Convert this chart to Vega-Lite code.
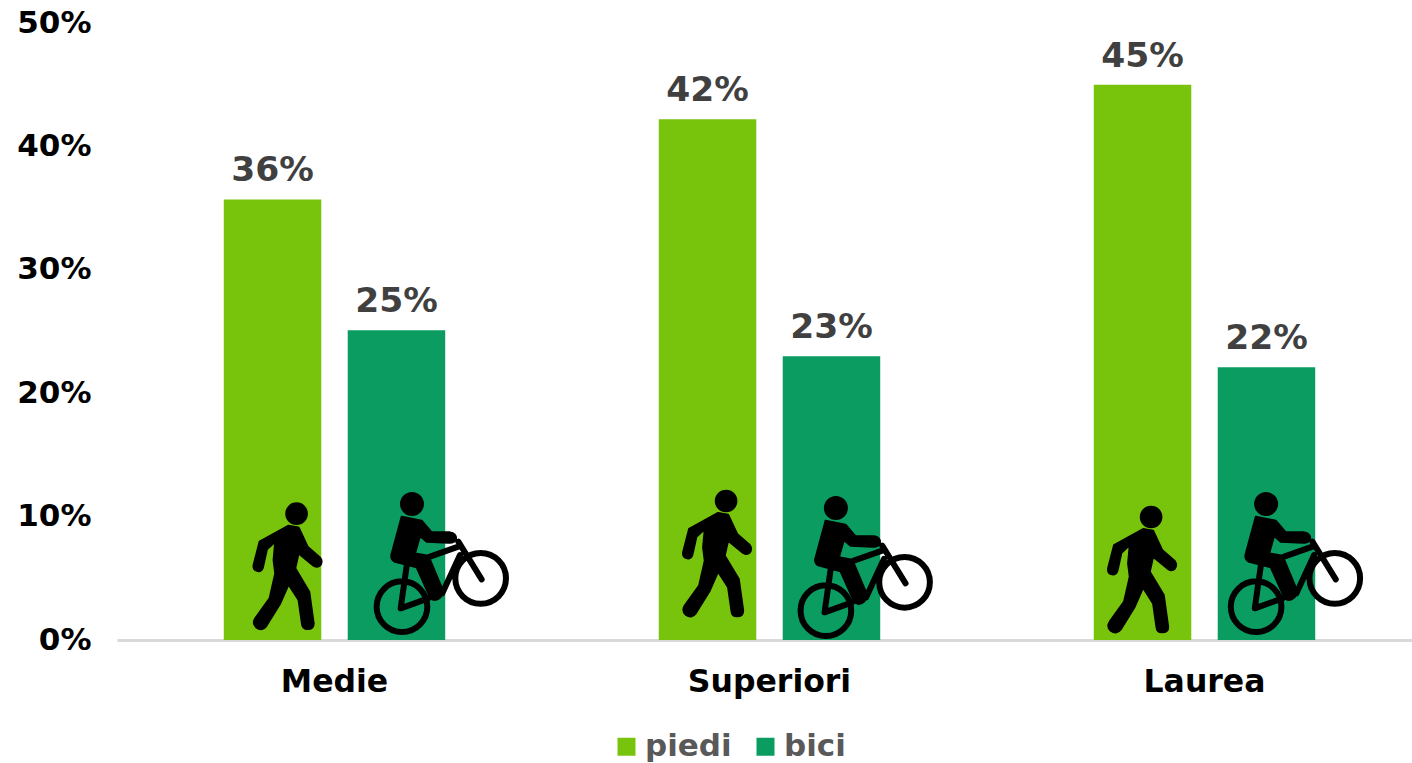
{"$schema":"https://vega.github.io/schema/vega-lite/v6.json","width":1295,"height":617,"autosize":{"type":"none"},"padding":{"left":117,"top":23,"right":0,"bottom":123},"background":"white","config":{"view":{"stroke":null},"font":"DejaVu Sans"},"datasets":{"barre":[{"grado":"Medie","mezzo":"piedi","valore":0.357},{"grado":"Medie","mezzo":"bici","valore":0.251},{"grado":"Superiori","mezzo":"piedi","valore":0.422},{"grado":"Superiori","mezzo":"bici","valore":0.23},{"grado":"Laurea","mezzo":"piedi","valore":0.45},{"grado":"Laurea","mezzo":"bici","valore":0.221}],"pedoni":[{"pos":0.3906,"quota":0.0567},{"pos":1.378,"quota":0.067},{"pos":2.355,"quota":0.054}],"ciclisti":[{"pos":0.7195,"quota":0.0567},{"pos":1.694,"quota":0.0535},{"pos":2.683,"quota":0.0567}]},"resolve":{"scale":{"x":"independent"}},"layer":[{"data":{"name":"barre"},"layer":[{"mark":{"type":"bar","size":97.5},"encoding":{"x":{"field":"grado","type":"nominal","sort":["Medie","Superiori","Laurea"],"scale":{"range":[0,1305],"paddingInner":0.49,"paddingOuter":0.245},"axis":{"title":null,"labelAngle":0,"ticks":false,"labelFontSize":31.5,"labelFontWeight":"bold","labelColor":"#000000","labelPadding":26,"domainColor":"#D9D9D9","domainWidth":3}},"xOffset":{"field":"mezzo","type":"nominal","sort":["piedi","bici"],"scale":{"paddingInner":0.21}},"y":{"field":"valore","type":"quantitative","scale":{"domain":[0,0.5],"nice":false},"axis":{"title":null,"format":".0%","values":[0,0.1,0.2,0.3,0.4,0.5],"grid":false,"domain":false,"ticks":false,"labelFontSize":31,"labelFontWeight":"bold","labelColor":"#000000","labelPadding":26}},"color":{"field":"mezzo","type":"nominal","scale":{"domain":["piedi","bici"],"range":["#78C40C","#0B9C62"]},"legend":{"title":null,"orient":"none","legendX":494,"legendY":708,"direction":"horizontal","symbolType":"square","symbolSize":324,"symbolStrokeWidth":0,"symbolOpacity":1,"labelFontSize":31,"labelFontWeight":"bold","labelColor":"#595959","columnPadding":18,"labelOffset":3}}}},{"mark":{"type":"text","fontSize":34.5,"fontWeight":"bold","color":"#404040","baseline":"alphabetic","dy":-18},"encoding":{"x":{"field":"grado","type":"nominal","sort":["Medie","Superiori","Laurea"]},"xOffset":{"field":"mezzo","type":"nominal","sort":["piedi","bici"]},"y":{"field":"valore","type":"quantitative"},"text":{"field":"valore","type":"quantitative","format":".0%"}}}]},{"data":{"name":"pedoni"},"mark":{"type":"point","filled":true,"opacity":1,"color":"#000000","stroke":"#000000","size":0.4444,"strokeWidth":2,"strokeJoin":"round","shape":"M5,-133 L35,-128 L62,-70 L100,-37 Q108,-25 100,-14 Q92,-6 80,-13 L35,-50 L25,-5 L67,65 L80,158 Q82,177 62,177 Q46,177 45,160 L35,90 L5,43 L-20,100 L-62,168 Q-75,185 -92,172 Q-105,160 -95,145 L-52,85 L-35,10 L-40,-30 L-35,-85 L-60,-62 L-72,-8 Q-76,5 -88,3 Q-102,0 -100,-15 L-82,-85 Z M-2,-169 A31,31 0 1,1 60,-169 A31,31 0 1,1 -2,-169 Z"},"encoding":{"x":{"field":"pos","type":"quantitative","scale":{"domain":[0,3],"range":[0,1305],"nice":false,"zero":false},"axis":null},"y":{"field":"quota","type":"quantitative"}}},{"data":{"name":"ciclisti"},"layer":[{"mark":{"type":"point","filled":false,"opacity":1,"color":"#000000","size":0.4444,"strokeWidth":6,"strokeJoin":"round","strokeCap":"round","shape":"M-160,110 A76,76 0 1,1 -8,110 A76,76 0 1,1 -160,110 Z M76,25 A76,76 0 1,1 228,25 A76,76 0 1,1 76,25 Z M-70,-12 L-88,115 L-5,85 M0,-40 L85,-70 M90,-45 L37,70 M85,-85 L155,28"},"encoding":{"x":{"field":"pos","type":"quantitative","scale":{"domain":[0,3],"range":[0,1305],"nice":false,"zero":false},"axis":null},"y":{"field":"quota","type":"quantitative"}}},{"mark":{"type":"point","filled":true,"opacity":1,"color":"#000000","stroke":"#000000","size":0.4444,"strokeWidth":2,"strokeJoin":"round","shape":"M-87,-198 A33,33 0 1,1 -21,-198 A33,33 0 1,1 -87,-198 Z M-85,-160 L-25,-148 L5,-113 L60,-113 Q80,-110 78,-92 Q72,-80 55,-82 L-10,-85 L-30,-102 L-45,-50 L-5,-43 L37,57 Q40,85 15,90 Q0,88 -5,70 L-40,-8 L-105,-25 Q-118,-30 -116,-45 Z"},"encoding":{"x":{"field":"pos","type":"quantitative","scale":{"domain":[0,3],"range":[0,1305],"nice":false,"zero":false},"axis":null},"y":{"field":"quota","type":"quantitative"}}}]}]}
